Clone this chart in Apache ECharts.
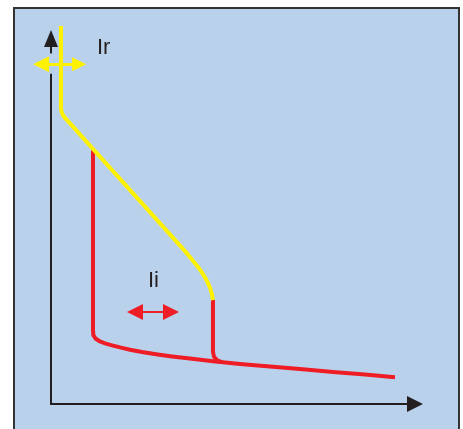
<!DOCTYPE html>
<html>
<head>
<meta charset="utf-8">
<script src="https://cdn.jsdelivr.net/npm/echarts@6/dist/echarts.min.js"></script>
<style>
    body { margin: 0; background: #fff; }
    #chart { width: 463px; height: 429px; }
</style>
</head>
<body>
<div id="chart"></div>
<script>
// 黄色曲线 (Ir 长延时)
var yellowX = [2.8, 2.8, 2.95, 3.37, 4.07, 37.4, 39.6, 41.3, 42.7, 43.8, 44.7, 45.2, 45.5];
var yellowY = [105.9, 82.9, 81.9, 80.9, 80.0, 43.1, 40.5, 38.4, 36.4, 34.5, 32.5, 30.8, 29.1];
// 红色曲线 (左边竖线 + 底部曲线)
var redX = [11.8, 11.8, 11.9, 12.5, 13.76, 15.17, 17.13, 19.38, 22.19, 25.56, 29.49, 33.99, 39.04, 45.51, 53.09, 60.67, 69.94, 79.21, 88.2, 96.63];
var redY = [71.1, 20.7, 19.3, 18.35, 17.51, 17.0, 16.44, 15.85, 15.21, 14.57, 13.95, 13.33, 12.72, 11.96, 11.2, 10.56, 9.78, 8.99, 8.24, 7.51];
// 红色第二条竖线 (Ii 右边)
var branchX = [45.5, 45.5, 45.8, 46.7, 48.0];
var branchY = [29.1, 14.6, 13.2, 12.2, 11.7];
// 双向箭头
var irArrowX = [-2.8, 7.9];
var irArrowY = 95.2;
var iiArrowX = [23.6, 33.7];
var iiArrowY = 25.8;
// y轴被黄色箭头断开的一段
var gapY = [92.5, 98.2];

var bgColor = '#BAD1EC';
var red = '#EE1C25';
var yellow = '#FFF200';
var axisColor = '#231F20';

function zip(xs, ys) {
    var arr = [];
    for (let i = 0; i < xs.length; i++) {
        arr.push([xs[i], ys[i]]);
    }
    return arr;
}

var chartDom = document.getElementById('chart');
var myChart = echarts.init(chartDom);
var option;
option = {
    animation: false,
    graphic: [
        {
            type: 'rect',
            z: -10,
            silent: true,
            shape: { x: 14, y: 8, width: 445, height: 440 },
            style: { fill: bgColor, stroke: '#333', lineWidth: 2 }
        },
        {
            type: 'text',
            z: 10,
            left: 97,
            top: 37,
            style: { text: 'Ir', fill: axisColor, font: '22px "Liberation Sans"' }
        },
        {
            type: 'text',
            z: 10,
            left: 148,
            top: 270,
            style: { text: 'Ii', fill: axisColor, font: '22px "Liberation Sans"' }
        }
    ],
    grid: {
        left: 51,
        right: 56,
        top: 47,
        bottom: 25
    },
    xAxis: {
        type: 'value',
        min: 0,
        max: 100,
        axisLine: {
            show: true,
            symbol: ['none', 'triangle'],
            symbolSize: [16, 16],
            symbolOffset: [0, 8],
            lineStyle: { color: axisColor, width: 2 }
        },
        axisTick: { show: false },
        axisLabel: { show: false },
        splitLine: { show: false }
    },
    yAxis: {
        type: 'value',
        min: 0,
        max: 100,
        axisLine: {
            show: true,
            symbol: ['none', 'triangle'],
            symbolSize: [14, 17],
            symbolOffset: [0, 8.5],
            lineStyle: { color: axisColor, width: 2 }
        },
        axisTick: { show: false },
        axisLabel: { show: false },
        splitLine: { show: false }
    },
    series: [
        {
            // y轴断开处
            type: 'line',
            data: [[0, gapY[0]], [0, gapY[1]]],
            symbol: 'none',
            silent: true,
            clip: false,
            z: 3,
            lineStyle: { color: bgColor, width: 4 }
        },
        {
            type: 'line',
            data: zip(redX, redY),
            symbol: 'none',
            silent: true,
            clip: false,
            z: 4,
            lineStyle: { color: red, width: 4, join: 'round' }
        },
        {
            type: 'line',
            data: zip(branchX, branchY),
            symbol: 'none',
            silent: true,
            clip: false,
            z: 4,
            lineStyle: { color: red, width: 4, join: 'round' }
        },
        {
            type: 'line',
            data: zip(yellowX, yellowY),
            symbol: 'none',
            silent: true,
            clip: false,
            z: 5,
            lineStyle: { color: yellow, width: 4, join: 'round' }
        },
        {
            type: 'lines',
            coordinateSystem: 'cartesian2d',
            silent: true,
            clip: false,
            z: 6,
            symbol: ['triangle', 'triangle'],
            symbolSize: [16, 14],
            lineStyle: { color: yellow, width: 3, opacity: 1, curveness: 0 },
            data: [{ coords: [[irArrowX[0], irArrowY], [irArrowX[1], irArrowY]] }]
        },
        {
            type: 'lines',
            coordinateSystem: 'cartesian2d',
            silent: true,
            clip: false,
            z: 6,
            symbol: ['triangle', 'triangle'],
            symbolSize: [16, 16],
            lineStyle: { color: red, width: 2, opacity: 1, curveness: 0 },
            data: [{ coords: [[iiArrowX[0], iiArrowY], [iiArrowX[1], iiArrowY]] }]
        }
    ]
};

option && myChart.setOption(option);
</script>
</body>
</html>
